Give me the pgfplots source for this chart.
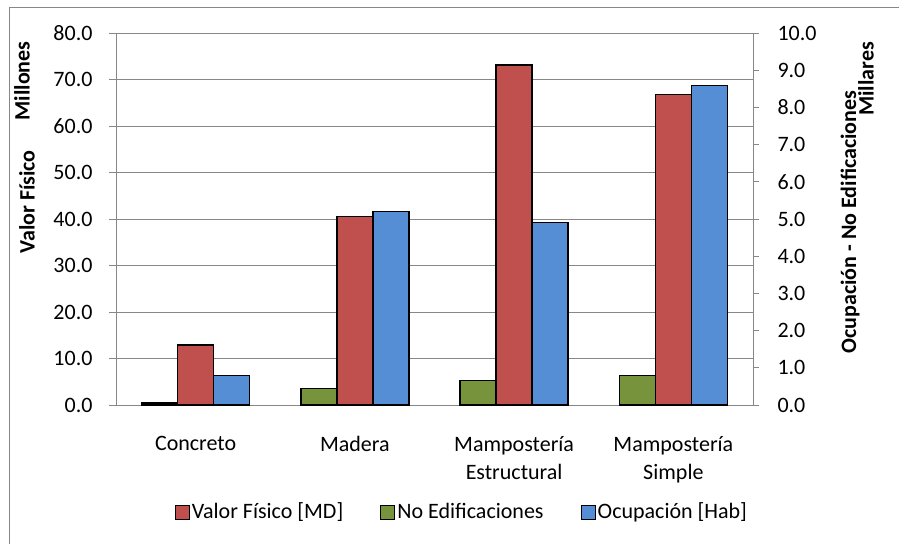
\documentclass[border=0pt]{standalone}
\usepackage{fontspec}
\setmainfont{Carlito}
\usepackage{pgfplots}
\pgfplotsset{compat=1.18}
\definecolor{cred}{HTML}{C0504D}
\definecolor{cgreen}{HTML}{77933C}
\definecolor{cblue}{HTML}{558ED5}
\definecolor{cgrid}{HTML}{878787}
\begin{document}
\begin{tikzpicture}[x=1pt,y=1pt,font=\fontsize{22}{28}\selectfont]
\useasboundingbox (0,0) rectangle (899,544);
\draw[cgrid, line width=0.9pt] (9,0) -- (9,537) -- (899,537);
\begin{axis}[
  at={(116pt,139pt)}, anchor=south west, scale only axis,
  width=637pt, height=372pt,
  xmin=0.5, xmax=4.5, ymin=0, ymax=80,
  axis y line*=left, axis x line*=bottom,
  axis line style={cgrid, line width=0.9pt, -},
  xtick={1,2,3,4},
  xticklabels={Concreto, Madera, {Mampostería\\Estructural}, {Mampostería\\Simple}},
  xticklabel style={align=center, yshift=-21pt, font=\fontsize{22}{28}\selectfont},
  x tick style={draw=none},
  extra x ticks={0.5,1.5,2.5,3.5,4.5},
  extra x tick labels={},
  extra x tick style={tick style={draw=cgrid, line width=0.9pt}, major tick length=6pt, tick align=outside, grid=none},
  ytick={0,10,...,80},
  tick align=outside,
  y tick style={draw=cgrid, line width=0.9pt},
  major tick length=7pt,
  ymajorgrids, grid style={cgrid, line width=0.9pt},
  /pgf/number format/fixed, /pgf/number format/fixed zerofill,
  /pgf/number format/precision=1, /pgf/number format/assume math mode=true,
  yticklabel style={xshift=-13pt},
  clip=false,
]
\addplot[ybar, bar width=36pt, bar shift=0pt, fill=cred, draw=black, line width=1.3pt]
  coordinates {(1,12.9) (2,40.6) (3,73.1) (4,66.7)};
\end{axis}
\begin{axis}[
  at={(116pt,139pt)}, anchor=south west, scale only axis,
  width=637pt, height=372pt,
  xmin=0.5, xmax=4.5, ymin=0, ymax=10,
  axis y line*=right, axis x line=none,
  axis line style={cgrid, line width=0.9pt, -},
  ytick={0,1,...,10},
  tick align=outside,
  y tick style={draw=cgrid, line width=0.9pt},
  major tick length=6pt,
  /pgf/number format/fixed, /pgf/number format/fixed zerofill,
  /pgf/number format/precision=1, /pgf/number format/assume math mode=true,
  yticklabel style={xshift=15pt},
  clip=false,
  legend columns=3,
  legend style={at={(0.543,-0.293)}, anchor=center, draw=none, fill=none,
    font=\fontsize{22}{28}\selectfont,
    nodes={text depth=0.25em, text height=0.75em},
    /tikz/every even column/.append style={column sep=35pt}},
]
\addlegendimage{legend image code/.code={\draw[fill=cred, draw=black, line width=1.1pt] (0pt,-3pt) rectangle (14pt,11pt);}}
\addlegendimage{legend image code/.code={\draw[fill=cgreen, draw=black, line width=1.1pt] (0pt,-3pt) rectangle (14pt,11pt);}}
\addlegendimage{legend image code/.code={\draw[fill=cblue, draw=black, line width=1.1pt] (0pt,-3pt) rectangle (14pt,11pt);}}
\addplot[ybar, bar width=36pt, bar shift=-36pt, fill=cgreen, draw=black, line width=1.3pt]
  coordinates {(1,0.05) (2,0.45) (3,0.65) (4,0.80)};
\addplot[ybar, bar width=36pt, bar shift=36pt, fill=cblue, draw=black, line width=1.3pt]
  coordinates {(1,0.80) (2,5.21) (3,4.91) (4,8.58)};
\legend{Valor Físico [MD], No Edificaciones, Ocupación [Hab]}
\end{axis}
\node[rotate=90, font=\fontsize{22}{28}\selectfont\bfseries] at (27,342) {Valor Físico};
\node[rotate=90, font=\fontsize{22}{28}\selectfont\bfseries] at (22,463) {Millones};
\node[rotate=90, font=\fontsize{22}{28}\selectfont\bfseries] at (850,322) {Ocupación - No Edificaciones};
\node[rotate=90, font=\fontsize{22}{28}\selectfont\bfseries] at (866,465) {Millares};
\end{tikzpicture}
\end{document}
